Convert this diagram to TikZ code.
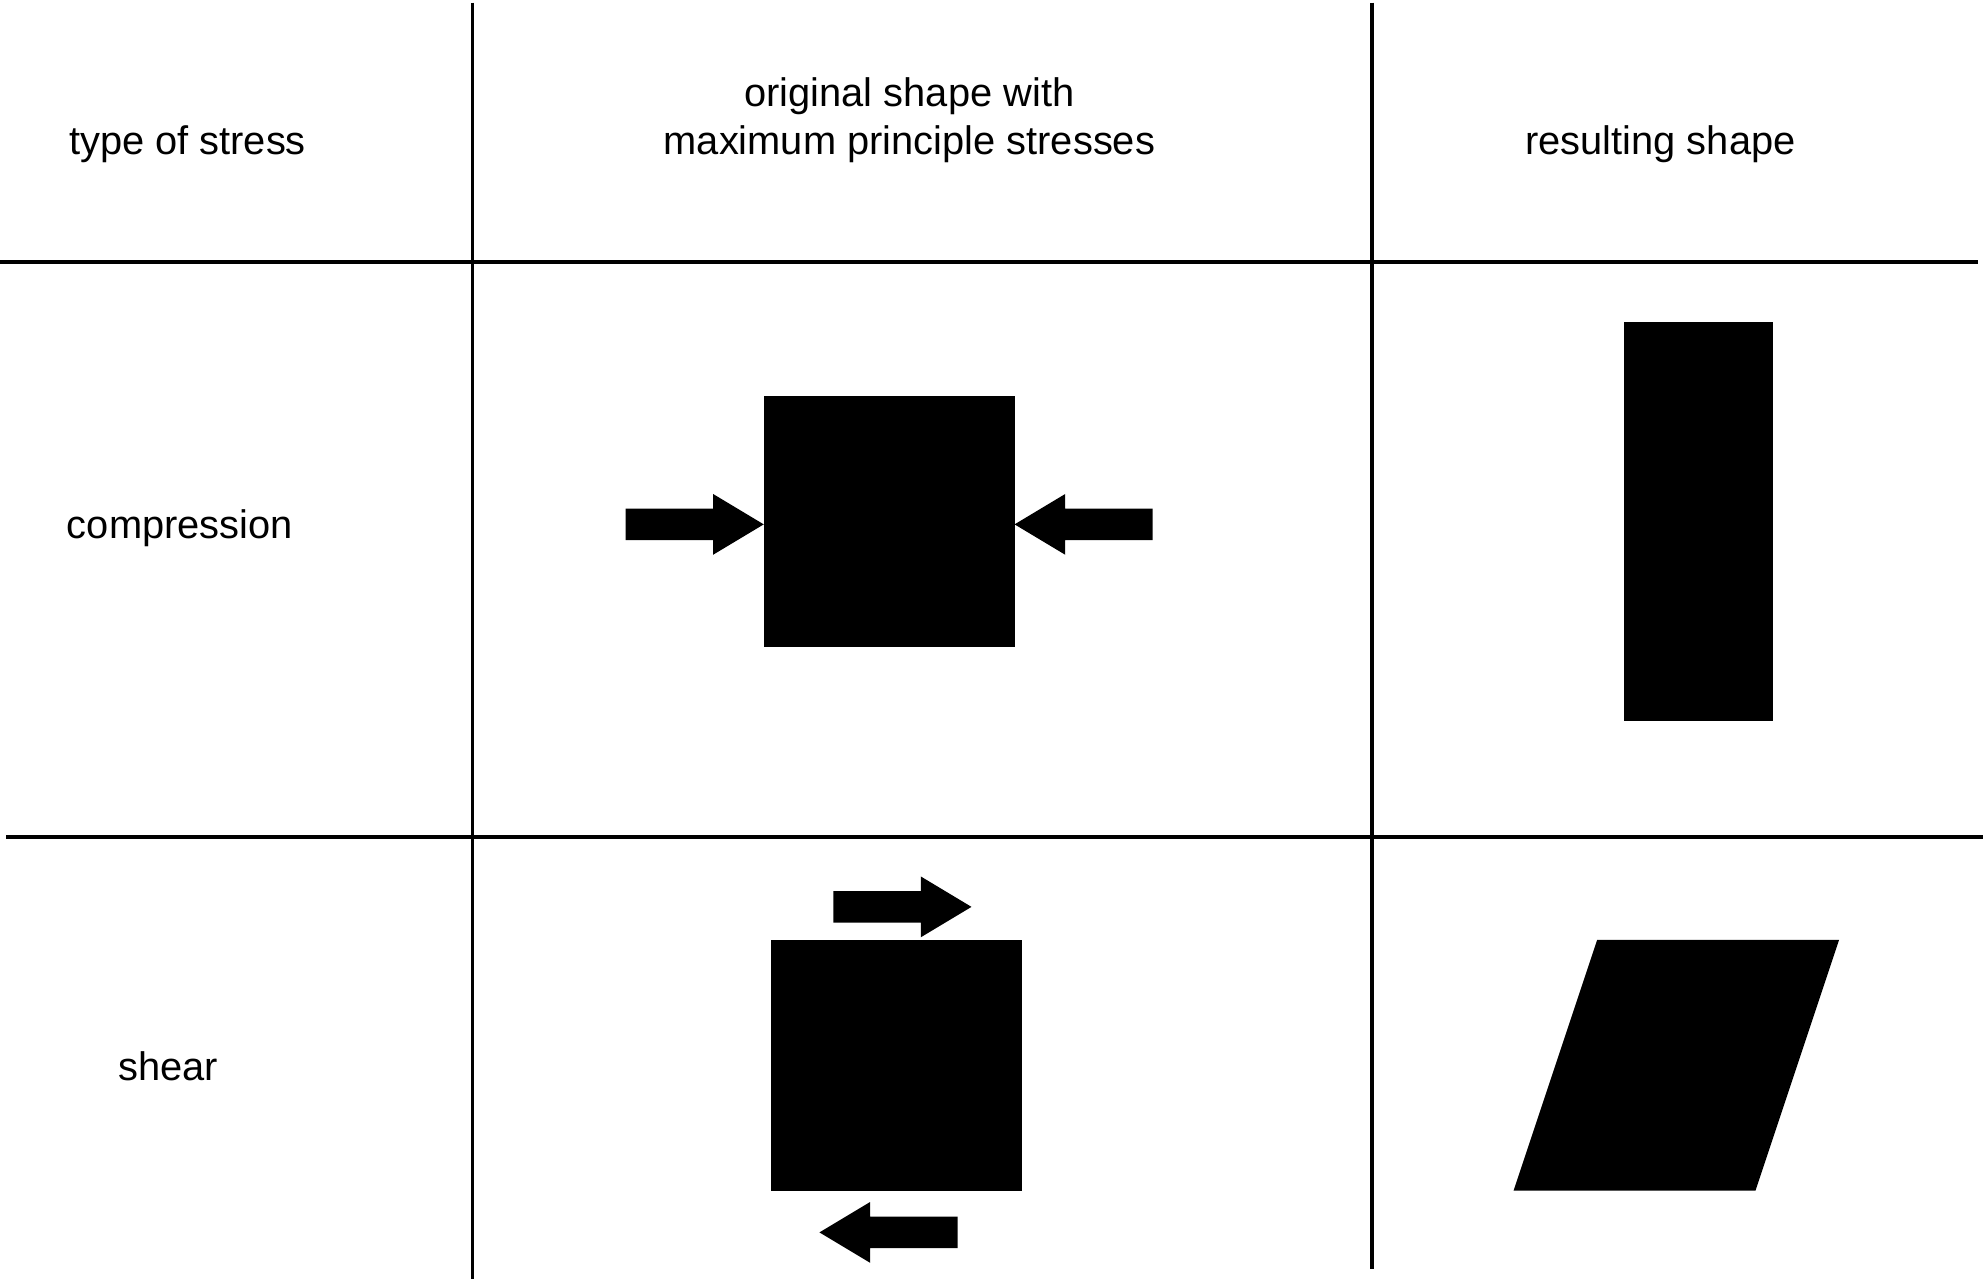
\documentclass[tikz,border=0pt]{standalone}
\usepackage{fontspec}
\setmainfont{Liberation Sans}
\usetikzlibrary{positioning}
\tikzset{
  rule/.style={line width=1.7pt},
  label/.style={font=\fontsize{17.9}{21.5}\selectfont,align=center},
  fatarrow/.pic={\fill (0,0) -- (-40,24) -- (-40,12.5) -- (-109,12.5) -- (-109,-12.5) -- (-40,-12.5) -- (-40,-24) -- cycle;}
}
\begin{document}
\begin{tikzpicture}[x=0.02cm,y=-0.02cm]
\useasboundingbox (0,0) rectangle (1568,1011);
% table rules
\draw[rule] (373,2) -- (373,1010);
\draw[rule] (1083,2) -- (1083,1002);
\draw[rule] (0,207) -- (1562,207);
\draw[rule] (5,661) -- (1566,661);
% headings
\node[label] (head1) at (148,114) {type of stress};
\node[label] (head2) at (718,95) {original shape with\\maximum principle stresses};
\node[label] (head3) at (1311,114) {resulting shape};
\node[label] (comp) at (142,417) {compression};
\node[label] (shear) at (133,842) {shear};
% compression
\fill (603,313) rectangle (801,511);
\pic at (603,414) {fatarrow};
\pic[rotate=180] at (801,414) {fatarrow};
\fill (1282,254) rectangle (1400,569);
% shear
\fill (609,742) rectangle (807,940);
\pic at (767,716) {fatarrow};
\pic[rotate=180] at (647,973) {fatarrow};
\fill (1261,742) -- (1452,742) -- (1386,940) -- (1195,940) -- cycle;
\end{tikzpicture}
\end{document}
